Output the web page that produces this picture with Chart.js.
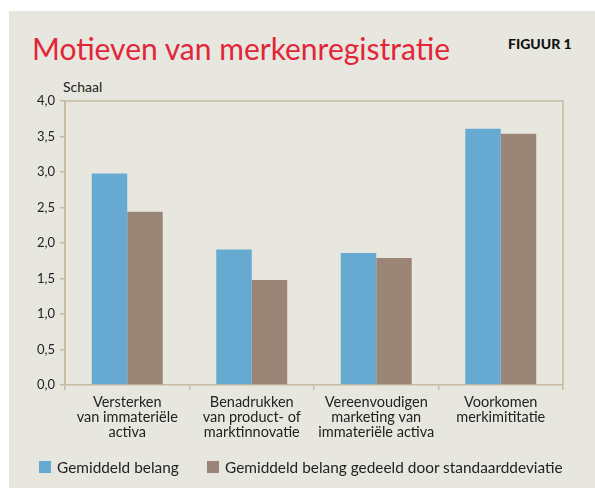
<!DOCTYPE html>
<html>
<head>
<meta charset="utf-8">
<script src="https://cdn.jsdelivr.net/npm/chart.js@4"></script>
<style>
  body { margin: 0; background: #fff; }
  #panel { position: absolute; left: 9px; top: 11px; width: 586px; height: 477px; background: #e8e7df; }
  #wrap { position: absolute; left: 0; top: 0; width: 595px; height: 488px; }
  .txt { position: absolute; font-family: Lato, sans-serif; white-space: nowrap; }
  #title { left: 32px; top: 28px; font-size: 30px; color: #e1263a; line-height: 40px; }
  #fig { left: 508px; top: 35px; font-size: 14px; font-weight: 900; color: #111; }
  #schaal { left: 63px; top: 78px; font-size: 14px; color: #222; }
  .key { position: absolute; top: 461px; width: 12px; height: 12px; }
  .ktxt { top: 458px; font-size: 15.4px; color: #222; line-height: 18px; }
</style>
</head>
<body>
<div id="panel"></div>
<div class="txt" id="title">Motieven van merkenregistratie</div>
<div class="txt" id="fig">FIGUUR 1</div>
<div class="txt" id="schaal">Schaal</div>
<div id="wrap"><canvas id="chart" width="595" height="488"></canvas></div>
<div class="key" id="k0" style="left:39px"></div>
<div class="txt ktxt" id="t0" style="left:57px"></div>
<div class="key" id="k1" style="left:207px"></div>
<div class="txt ktxt" id="t1" style="left:225px"></div>
<script>
//================================ DATA ================================
var categories = [
  ["Versterken", "van immateriële", "activa"],
  ["Benadrukken", "van product- of", "marktinnovatie"],
  ["Vereenvoudigen", "marketing van", "immateriële activa"],
  ["Voorkomen", "merkimititatie"]
];
var belang = [2.98, 1.91, 1.86, 3.61];
var belangGedeeld = [2.44, 1.48, 1.79, 3.54];
var seriesNames = ["Gemiddeld belang", "Gemiddeld belang gedeeld door standaarddeviatie"];
var seriesColors = ["#67aad1", "#9b8577"];

var lineColor = "#c8bb9f";

// box round the plot area
var frame = {
  id: 'frame',
  afterDraw: function(chart) {
    var a = chart.chartArea, ctx = chart.ctx;
    ctx.save();
    ctx.strokeStyle = lineColor;
    ctx.lineWidth = 1.5;
    ctx.beginPath();
    ctx.moveTo(a.left, a.bottom);
    ctx.lineTo(a.left, a.top);
    ctx.lineTo(a.right, a.top);
    ctx.lineTo(a.right, a.bottom);
    ctx.stroke();
    ctx.restore();
  }
};

var chart = new Chart(document.getElementById("chart"), {
  type: 'bar',
  data: {
    labels: categories,
    datasets: [{
        label: seriesNames[0],
        data: belang,
        backgroundColor: seriesColors[0]
      }, {
        label: seriesNames[1],
        data: belangGedeeld,
        backgroundColor: seriesColors[1]
      }
    ]
  },
  options: {
    responsive: false,
    animation: false,
    layout: { padding: { left: 0, right: 32, top: 101, bottom: 43 } },
    datasets: { bar: { categoryPercentage: 0.57, barPercentage: 1.0 } },
    scales: {
      x: {
        afterFit: function(s) { s.height = 60; },
        grid: { offset: true, drawOnChartArea: false, drawTicks: true, tickLength: 5, color: lineColor, lineWidth: 1.5 },
        border: { color: lineColor, width: 1.5 },
        ticks: { color: "#222", font: { family: "Lato", size: 14.5, lineHeight: 1.03 }, padding: 5 }
      },
      y: {
        min: 0, max: 4,
        afterFit: function(s) { s.width = 65; },
        grid: { drawOnChartArea: false, drawTicks: true, tickLength: 5, color: lineColor, lineWidth: 1.5 },
        border: { color: lineColor, width: 1.5 },
        ticks: {
          stepSize: 0.5, padding: 5, color: "#222",
          font: { family: "Lato", size: 13 },
          callback: function(v) { return v.toFixed(1).replace('.', ','); }
        }
      }
    },
    plugins: {
      legend: { display: false },
      tooltip: { enabled: false }
    }
  },
  plugins: [frame]
});

// legend from the datasets
chart.data.datasets.forEach(function(ds, i) {
  document.getElementById("k" + i).style.background = ds.backgroundColor;
  document.getElementById("t" + i).textContent = ds.label;
});
</script>
</body>
</html>
